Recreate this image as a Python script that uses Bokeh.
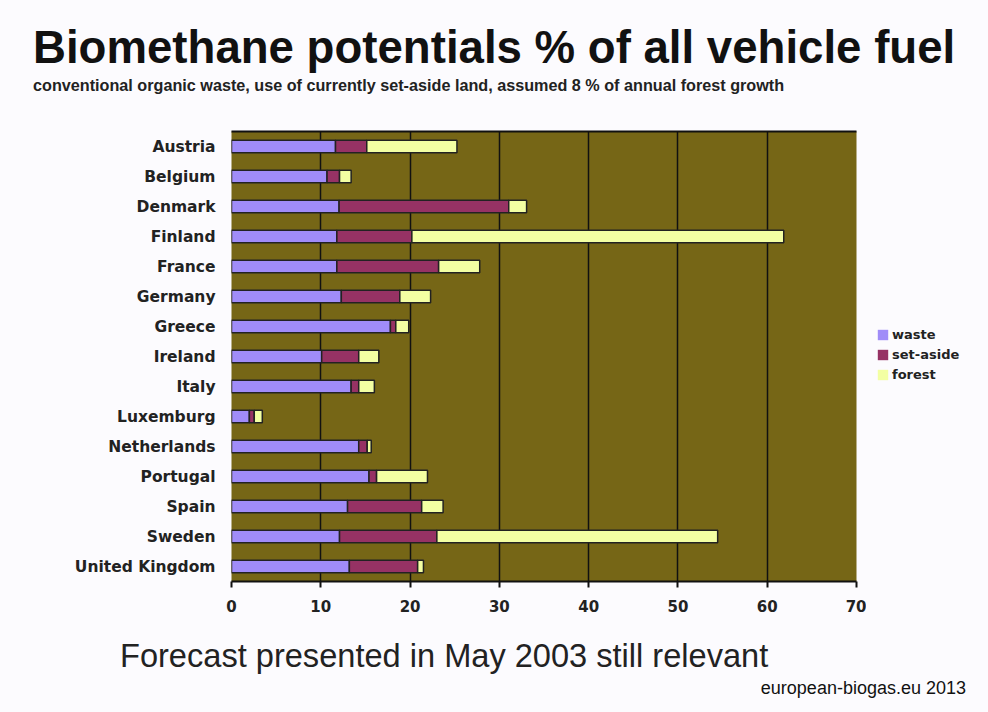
from bokeh.plotting import figure
from bokeh.models import (ColumnDataSource, FactorRange, Range1d, FixedTicker, Div,
                          Legend, LegendItem, LinearAxis)
from bokeh.layouts import column, row
from bokeh.embed import file_html
from bokeh.resources import INLINE

countries = ["Austria", "Belgium", "Denmark", "Finland", "France", "Germany", "Greece",
             "Ireland", "Italy", "Luxemburg", "Netherlands", "Portugal", "Spain",
             "Sweden", "United Kingdom"]
waste = [11.65, 10.7, 12.05, 11.8, 11.8, 12.3, 17.8, 10.1, 13.4, 2.0, 14.25, 15.4, 13.0, 12.1, 13.2]
set_aside = [3.5, 1.4, 19.0, 8.4, 11.4, 6.55, 0.6, 4.15, 0.85, 0.55, 0.95, 0.85, 8.3, 10.9, 7.65]
forest = [10.1, 1.3, 2.0, 41.65, 4.6, 3.45, 1.45, 2.25, 1.75, 0.9, 0.45, 5.7, 2.4, 31.45, 0.65]
series = ["waste", "set-aside", "forest"]
x_ticks = [0, 10, 20, 30, 40, 50, 60, 70]
grid_ticks = [10, 20, 30, 40, 50, 60]

title_text = "Biomethane potentials % of all vehicle fuel"
subtitle_text = ("conventional organic waste, use of currently set-aside land, "
                 "assumed 8 % of annual forest growth")
footer_text = "Forecast presented in May 2003 still relevant"
credit_text = "european-biogas.eu 2013"

colors = ["#A08CF8", "#963264", "#F3FFA3"]
BG = "#fcfbfe"
W = 988
MAIN_W = 866
LEG_W = W - MAIN_W
HEAD_H = 125
FIG_H = 500
FOOT_H = 712 - HEAD_H - FIG_H

source = ColumnDataSource(dict(country=countries, waste=waste, set_aside=set_aside, forest=forest))

p = figure(width=MAIN_W, height=FIG_H,
           y_range=FactorRange(factors=list(reversed(countries)), range_padding=0),
           x_range=Range1d(0, 70),
           output_backend="svg", toolbar_location=None,
           min_border_left=231, min_border_right=MAIN_W - 856, min_border_top=6, min_border_bottom=44)
p.background_fill_color = "#766616"
p.border_fill_color = BG
p.outline_line_color = None

rs = p.hbar_stack(["waste", "set_aside", "forest"], y="country", height=0.42,
                  fill_color=colors, line_color="#222222", line_width=1.5, source=source)

# grid
p.ygrid.grid_line_color = None
p.xgrid.ticker = FixedTicker(ticks=grid_ticks)
p.xgrid.grid_line_color = "#111111"
p.xgrid.grid_line_width = 1.5

# x axis
p.xaxis.ticker = FixedTicker(ticks=x_ticks)
p.xaxis.axis_line_color = "#111111"
p.xaxis.axis_line_width = 2
p.xaxis.major_tick_line_color = "#111111"
p.xaxis.major_tick_line_width = 2
p.xaxis.major_tick_out = 6
p.xaxis.major_tick_in = 0
p.xaxis.minor_tick_line_color = None
p.xaxis.major_label_text_font = "DejaVu Sans"
p.xaxis.major_label_text_font_style = "bold"
p.xaxis.major_label_text_font_size = "15px"
p.xaxis.major_label_text_color = "#222222"
p.xaxis.major_label_standoff = 12

# y axis
p.yaxis.axis_line_color = None
p.yaxis.major_tick_line_color = None
p.yaxis.minor_tick_line_color = None
p.yaxis.major_label_text_font = "DejaVu Sans"
p.yaxis.major_label_text_font_style = "bold"
p.yaxis.major_label_text_font_size = "15.5px"
p.yaxis.major_label_text_color = "#222222"
p.yaxis.major_label_standoff = 10

# top border line
top = LinearAxis(ticker=FixedTicker(ticks=[]), axis_line_color="#111111", axis_line_width=2,
                 major_tick_line_color=None, minor_tick_line_color=None)
p.add_layout(top, "above")

# legend in its own small figure (swatches are zero-width bars without outline)
lf = figure(width=LEG_W, height=FIG_H, x_range=Range1d(0, 1), y_range=Range1d(0, 1),
            output_backend="svg", toolbar_location=None,
            min_border_left=0, min_border_right=0, min_border_top=0, min_border_bottom=0)
lf.axis.visible = False
lf.grid.visible = False
lf.outline_line_color = None
lf.background_fill_color = BG
lf.border_fill_color = BG
dummies = [lf.hbar(y=[0.5], left=[0], right=[0], height=0.1, fill_color=c, line_color=None)
           for c in colors]
legend = Legend(items=[LegendItem(label=s, renderers=[d]) for s, d in zip(series, dummies)],
                location=(876 - MAIN_W, 199),
                glyph_width=13, glyph_height=13, label_height=10,
                label_standoff=3, spacing=5, padding=0, margin=0,
                background_fill_alpha=0, border_line_color=None,
                label_text_font="DejaVu Sans", label_text_font_style="bold",
                label_text_font_size="13px", label_text_color="#222222")
lf.add_layout(legend, "center")


def span(text, left, top, size, bold, color):
    return ('<div style="position:absolute;left:%dpx;top:%.1fpx;white-space:nowrap;'
            'font-family:\'Liberation Sans\';font-size:%s;font-weight:%s;line-height:1;color:%s">%s</div>'
            % (left, top, size, "bold" if bold else "normal", color, text))


def right_span(text, right, top, size, color):
    return ('<div style="position:absolute;right:%dpx;top:%.1fpx;white-space:nowrap;'
            'font-family:\'Liberation Sans\';font-size:%s;line-height:1;color:%s">%s</div>'
            % (right, top, size, color, text))


head = Div(width=W, height=HEAD_H, margin=0, styles={"background-color": BG},
           text='<div style="position:relative;width:%dpx;height:%dpx">%s%s</div>' % (
               W, HEAD_H,
               span(title_text, 33, 64 - 0.8465 * 45.6, "45.6px", True, "#111111"),
               span(subtitle_text, 33, 91 - 0.8465 * 16.2, "16.2px", True, "#222222")))

foot_top = HEAD_H + FIG_H
foot = Div(width=W, height=FOOT_H, margin=0, styles={"background-color": BG},
           text='<div style="position:relative;width:%dpx;height:%dpx">%s%s</div>' % (
               W, FOOT_H,
               span(footer_text, 120, 668 - 0.8465 * 32.6 - foot_top, "32.6px", False, "#222222"),
               right_span(credit_text, W - 966, 694 - 0.8465 * 18 - foot_top, "18px", "#111111")))

mid = row(p, lf, spacing=0, width=W, height=FIG_H)
layout = column(head, mid, foot, spacing=0, width=W, height=712,
                styles={"background-color": BG})

open("out.html", "w").write(file_html(layout, INLINE))
